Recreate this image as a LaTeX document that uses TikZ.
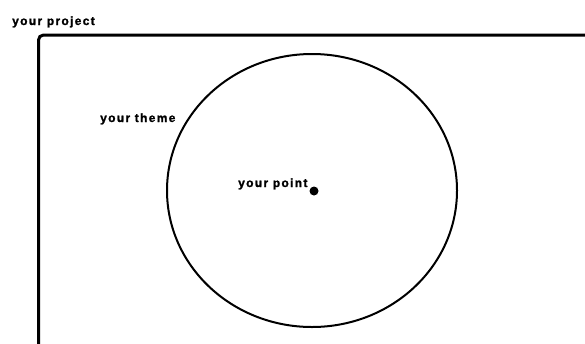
\documentclass[tikz,border=0pt]{standalone}
\usepackage{fontspec}
\setmainfont{Liberation Sans}[LetterSpace=11, BoldFeatures={FakeBold=1.5}]
\usepackage{tikz}
\usetikzlibrary{shapes.geometric,positioning}

\begin{document}
\begin{tikzpicture}[
    x=1pt, y=-1pt,
    label/.style={anchor=base west, inner sep=0pt, font=\fontsize{12}{14}\selectfont\bfseries},
    frame/.style={draw, line width=3pt, rounded corners=5pt},
    theme/.style={ellipse, draw, line width=2pt, minimum width=290pt, minimum height=273pt, inner sep=0pt},
    point/.style={circle, fill, minimum size=9pt, inner sep=0pt}
]
\useasboundingbox (0,0) rectangle (585,343);
\clip (0,0) rectangle (585,343);

\node[label] (projectlabel) at (12,25) {your project};
\draw[frame] (38.5,35) rectangle (620,380);

\node[theme] (circ) at (312,190.5) {};
\node[label] (themelabel) at (100,122) {your theme};

\node[point] (dot) at (314,191) {};
\node[label] (pointlabel) at (238,187) {your point};
\end{tikzpicture}
\end{document}
